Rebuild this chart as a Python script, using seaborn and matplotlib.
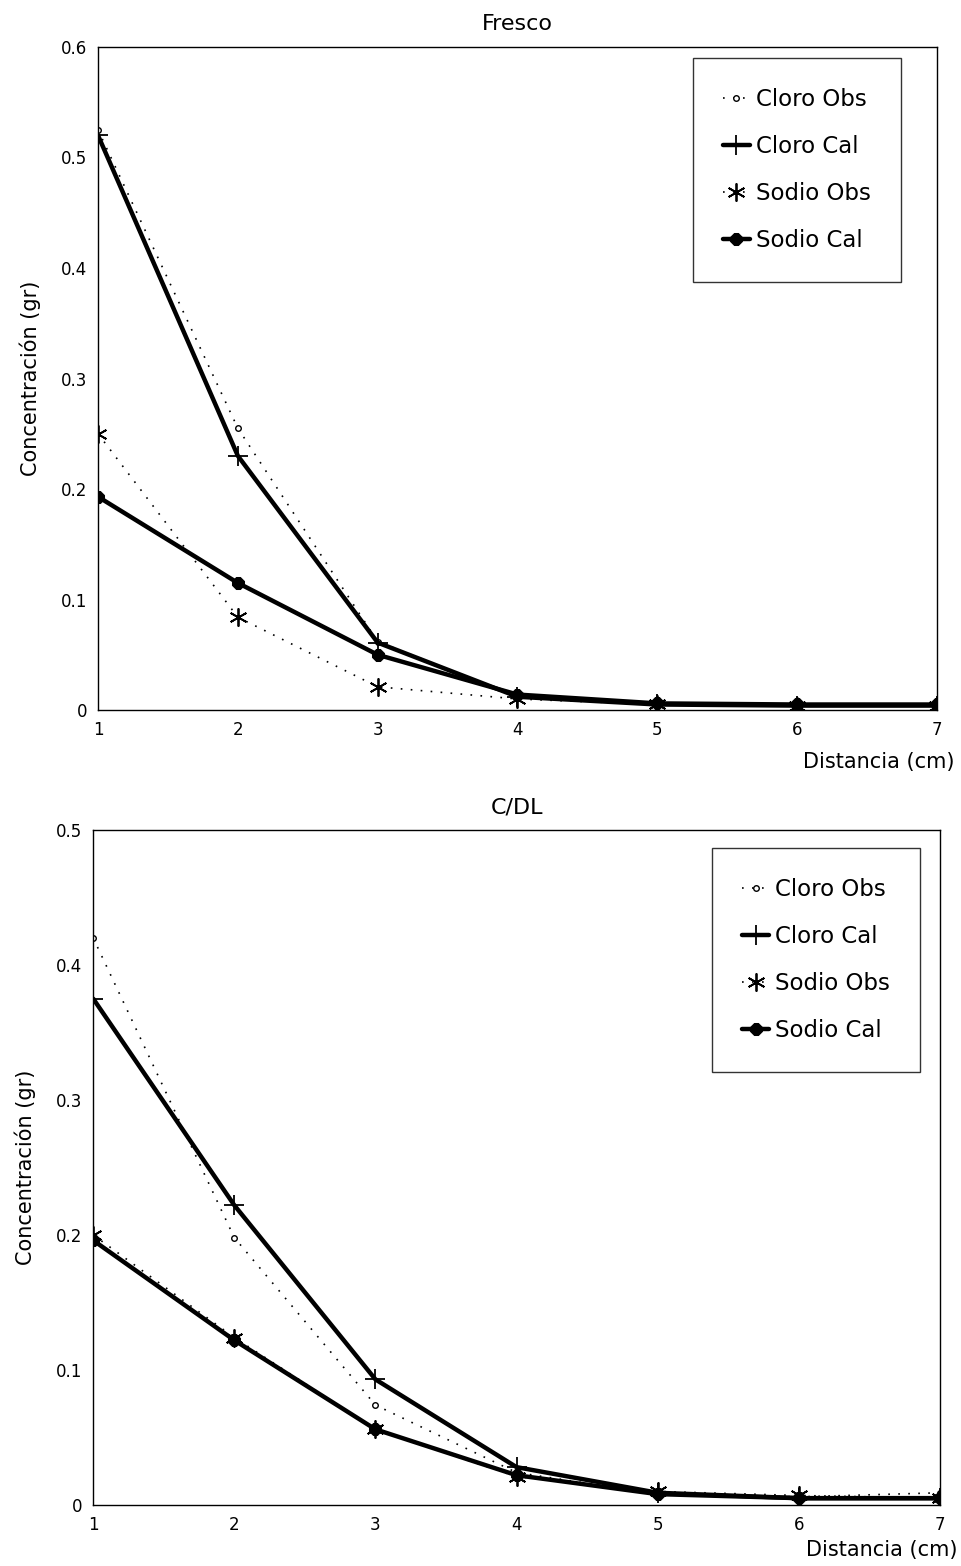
import matplotlib
matplotlib.use("Agg")
import matplotlib.pyplot as plt
import seaborn as sns
import pandas as pd

sns.set_theme(style="white")
plt.rcParams['font.family'] = ['DejaVu Sans']

distancia = [1, 2, 3, 4, 5, 6, 7]
xticks = [1, 2, 3, 4, 5, 6, 7]

# Panel "Fresco"
fresco_cloro_obs = [0.525, 0.255, 0.062, 0.012, 0.005, 0.004, 0.004]
fresco_cloro_cal = [0.52, 0.23, 0.061, 0.012, 0.005, 0.004, 0.004]
fresco_sodio_obs = [0.25, 0.084, 0.021, 0.010, 0.005, 0.004, 0.004]
fresco_sodio_cal = [0.193, 0.115, 0.050, 0.014, 0.006, 0.005, 0.005]

# Panel "C/DL"
cdl_cloro_obs = [0.42, 0.198, 0.074, 0.024, 0.008, 0.006, 0.009]
cdl_cloro_cal = [0.375, 0.222, 0.093, 0.028, 0.009, 0.005, 0.005]
cdl_sodio_obs = [0.20, 0.124, 0.056, 0.021, 0.010, 0.007, 0.005]
cdl_sodio_cal = [0.196, 0.122, 0.056, 0.022, 0.008, 0.005, 0.005]

series_names = ["Cloro Obs", "Cloro Cal", "Sodio Obs", "Sodio Cal"]
fresco_yticks = [0, 0.1, 0.2, 0.3, 0.4, 0.5, 0.6]
fresco_ylabels = ["0", "0.1", "0.2", "0.3", "0.4", "0.5", "0.6"]
cdl_yticks = [0, 0.1, 0.2, 0.3, 0.4, 0.5]
cdl_ylabels = ["0", "0.1", "0.2", "0.3", "0.4", "0.5"]

asterisk = (6, 2, 0)
dotted = (0, (1, 5))
styles = {
    "Cloro Obs": dict(linestyle=dotted, linewidth=1.2, marker="o", markersize=4,
                      markerfacecolor="white", markeredgecolor="black", markeredgewidth=1),
    "Cloro Cal": dict(linestyle="-", linewidth=3.2, marker="+", markersize=14,
                      markeredgecolor="black", markeredgewidth=1.3),
    "Sodio Obs": dict(linestyle=dotted, linewidth=1.2, marker=asterisk, markersize=13,
                      markeredgecolor="black", markeredgewidth=1.3),
    "Sodio Cal": dict(linestyle="-", linewidth=3.2, marker="8", markersize=9,
                      markerfacecolor="black", markeredgecolor="black"),
}

fig = plt.figure(figsize=(9.61, 15.66), dpi=100)
ax1 = fig.add_axes([0.102, 0.5466, 0.873, 0.4234])
ax2 = fig.add_axes([0.097, 0.039, 0.881, 0.431])


def draw(ax, data_list, yticks, ylabels, ymax, title, xl_x, xl_y, leg_anchor):
    for name, vals in zip(series_names, data_list):
        df = pd.DataFrame({"x": distancia, "y": vals})
        sns.lineplot(data=df, x="x", y="y", ax=ax, color="black", label=name,
                     **styles[name])
    ax.set_xlim(1, 7)
    ax.set_ylim(0, ymax)
    ax.set_xticks(xticks)
    ax.set_xticklabels([str(t) for t in xticks])
    ax.set_yticks(yticks)
    ax.set_yticklabels(ylabels)
    ax.tick_params(axis="both", length=0, labelsize=12, pad=8, colors="black")
    for s in ax.spines.values():
        s.set_color("black")
        s.set_linewidth(1.0)
    ax.set_title(title, fontsize=16, pad=12, color="black")
    ax.set_xlabel("Distancia (cm)", fontsize=15, ha="right", color="black")
    ax.xaxis.set_label_coords(xl_x, xl_y)
    ax.set_ylabel("Concentración (gr)", fontsize=15, color="black", labelpad=14)
    leg = ax.legend(loc="upper left", bbox_to_anchor=leg_anchor, fontsize=16.5,
                    frameon=True, fancybox=False, edgecolor="black",
                    handlelength=1.2, handletextpad=0.25, labelspacing=1.05,
                    borderpad=1.3, borderaxespad=0)
    for t in leg.get_texts():
        t.set_color("black")
    leg.get_frame().set_linewidth(1.0)
    ax.grid(False)


draw(ax1, [fresco_cloro_obs, fresco_cloro_cal, fresco_sodio_obs, fresco_sodio_cal],
     fresco_yticks, fresco_ylabels, 0.6, "Fresco", 1.021, -0.063, (0.709, 0.983))
draw(ax2, [cdl_cloro_obs, cdl_cloro_cal, cdl_sodio_obs, cdl_sodio_cal],
     cdl_yticks, cdl_ylabels, 0.5, "C/DL", 1.021, -0.052, (0.731, 0.973))

fig.savefig("out.png", dpi=100)
